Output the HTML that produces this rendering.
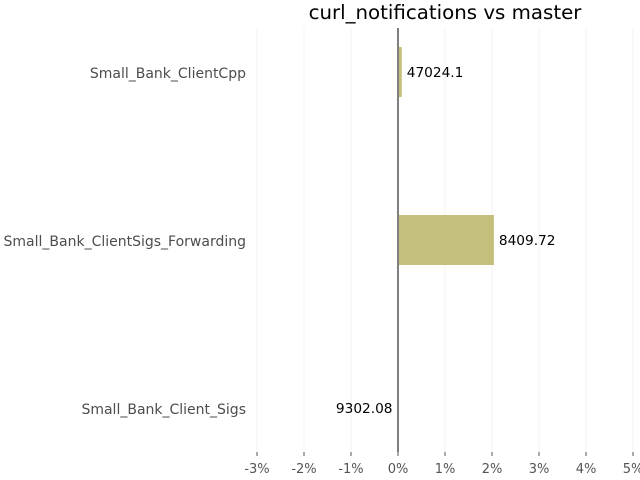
<!DOCTYPE html>
<html><head><meta charset="utf-8"><style>
body{margin:0;background:#fff;}
svg{display:block;font-family:"DejaVu Sans","Liberation Sans",sans-serif;}
</style></head><body>
<svg id="chart" width="640" height="480">
<text x="445" y="19" text-anchor="middle" font-size="19.8" fill="#000">curl_notifications vs master</text>
</svg>
<script>
const categories = ["Small_Bank_ClientCpp","Small_Bank_ClientSigs_Forwarding","Small_Bank_Client_Sigs"];
const values = [0.08, 2.04, -0.01];
const valueLabels = ["47024.1","8409.72","9302.08"];
const ticks = [-3,-2,-1,0,1,2,3,4,5];
const tickLabels = ["-3%","-2%","-1%","0%","1%","2%","3%","4%","5%"];
const NS="http://www.w3.org/2000/svg";
const svg=document.getElementById('chart');
const x=v=>398+v*47;
const yc=i=>72+i*168;
function mk(t,a,p){const e=document.createElementNS(NS,t);for(const k in a)e.setAttribute(k,a[k]);(p||svg).appendChild(e);return e;}
ticks.forEach((t,i)=>{
  const g=mk('line',{x1:x(t),x2:x(t),y1:28,y2:452,stroke:'#f3f3f3','stroke-width':1});
  
  
  const tm=mk('line',{x1:x(t),x2:x(t),y1:452,y2:456,stroke:'#555','stroke-width':1});
  
  
  const l=mk('text',{x:x(t),y:473,'text-anchor':'middle','font-size':13,fill:'#555'});
  l.textContent=tickLabels[i];
  
  
});
categories.forEach((c,i)=>{
  const v=values[i];
  const r=mk('rect',{x:Math.min(x(0),x(v)),y:yc(i)-25,width:Math.abs(x(v)-x(0)),height:50,fill:'#c4bf7a'});
  
  
  const cl=mk('text',{x:246,y:yc(i)+6,'text-anchor':'end','font-size':14,fill:'#4d4d4d'});
  cl.textContent=c;
  
  
  const pos=v>0;
  const vl=mk('text',{x:pos?x(v)+5:x(v)-5,y:yc(i)+5,'text-anchor':pos?'start':'end','font-size':13.7,fill:'#000'});
  vl.textContent=valueLabels[i];
  
  
});
const z=mk('line',{x1:x(0),x2:x(0),y1:28,y2:452,stroke:'#7f7f7f','stroke-width':2});


</script>
</body></html>
